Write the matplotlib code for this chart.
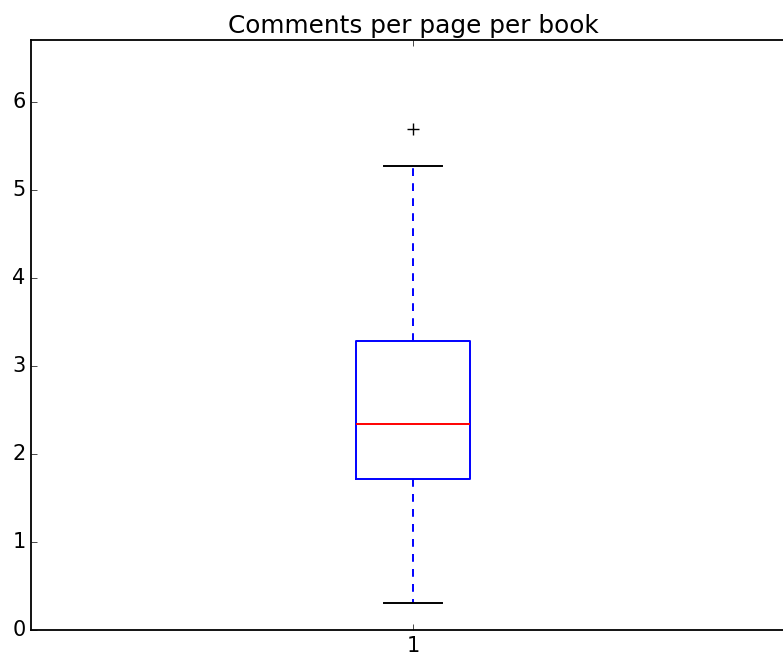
import matplotlib
matplotlib.use("Agg")
import matplotlib.pyplot as plt

# box statistics
labels = ["1"]
medians = [2.34]
q1s = [1.72]
q3s = [3.29]
whis_lo = [0.31]
whis_hi = [5.28]
fliers = [[5.70]]

plt.style.use("classic")
plt.rcParams["font.family"] = ["DejaVu Sans"]
plt.rcParams["axes.linewidth"] = 1.3

stats = []
for i in range(len(labels)):
    stats.append({
        "label": labels[i],
        "med": medians[i],
        "q1": q1s[i],
        "q3": q3s[i],
        "whislo": whis_lo[i],
        "whishi": whis_hi[i],
        "fliers": fliers[i],
    })

fig = plt.figure(figsize=(7.83, 6.56), dpi=100, facecolor="white")
ax = fig.add_axes([31 / 783, 26 / 656, 764 / 783, 590 / 656])

lw = 1.4
ax.bxp(stats, widths=0.15,
       boxprops=dict(color="blue", linewidth=lw),
       whiskerprops=dict(color="blue", linestyle=(0, (5.6, 5.2)), linewidth=lw),
       capprops=dict(color="black", linewidth=lw),
       medianprops=dict(color="red", linewidth=lw),
       flierprops=dict(marker="+", markeredgecolor="black", markersize=8,
                       markeredgewidth=1.0),
       capwidths=0.076)

ax.set_xlim(0.5, 1.5)
ax.set_ylim(0, 6.71)
ax.set_title("Comments per page per book", fontsize=17.8)
ax.tick_params(labelsize=15)

fig.savefig("out.png", dpi=100, facecolor="white")
